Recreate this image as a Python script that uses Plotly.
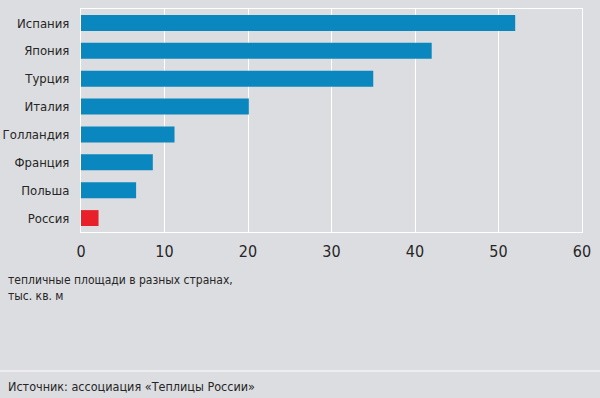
import plotly.graph_objects as go

countries = ["Испания", "Япония", "Турция", "Италия", "Голландия", "Франция", "Польша", "Россия"]
values = [52, 42, 35, 20.1, 11.2, 8.6, 6.6, 2.1]
bar_colors = ["#0a87be"] * 7 + ["#e8202a"]
x_ticks = [0, 10, 20, 30, 40, 50, 60]

BG = "#dcdde0"
FONT = "DejaVu Sans Condensed, sans-serif"
TXT = "#262626"

fig = go.Figure(go.Bar(
    x=values, y=countries, orientation="h",
    marker=dict(color=bar_colors, line=dict(width=0)),
    hoverinfo="skip",
))

W, H = 600, 398
L, R, T, B = 81, 18, 9, 166
pw, ph = W - L - R, H - T - B

def px_x(p):
    return (p - L) / pw

def px_y(p):
    return 1 - (p - T) / ph

fig.update_layout(
    width=W, height=H,
    margin=dict(l=L, r=R, t=T, b=B, pad=0, autoexpand=False),
    paper_bgcolor=BG, plot_bgcolor=BG,
    bargap=0.43,
    showlegend=False,
    font=dict(family=FONT, color=TXT, size=13),
    xaxis=dict(
        range=[0, 60], tickvals=x_ticks, ticktext=[str(v) for v in x_ticks],
        showgrid=True, gridcolor="#ffffff", gridwidth=1,
        showline=True, linecolor="#ffffff", linewidth=1, mirror=True,
        zeroline=False, ticks="", ticklabelstandoff=5, automargin=False,
        tickfont=dict(family=FONT, size=16, color=TXT),
        fixedrange=True,
    ),
    yaxis=dict(
        categoryorder="array", categoryarray=countries[::-1],
        range=[-0.5, len(countries) - 0.5],
        showgrid=False, showline=True, linecolor="#ffffff", linewidth=1, mirror=True,
        zeroline=False, ticks="", ticklabelstandoff=8, automargin=False,
        tickfont=dict(family=FONT, size=13, color=TXT),
        fixedrange=True,
    ),
    annotations=[
        dict(text="тепличные площади в разных странах,<br>тыс. кв. м",
             xref="paper", yref="paper", x=px_x(6), y=px_y(271),
             xanchor="left", yanchor="top", align="left", showarrow=False,
             font=dict(family=FONT, size=12, color=TXT)),
        dict(text="Источник: ассоциация «Теплицы России»",
             xref="paper", yref="paper", x=px_x(6), y=px_y(386),
             xanchor="left", yanchor="middle", align="left", showarrow=False,
             font=dict(family=FONT, size=12.5, color=TXT)),
    ],
    shapes=[
        dict(type="line", xref="paper", yref="paper",
             x0=px_x(0), x1=px_x(600), y0=px_y(371), y1=px_y(371),
             line=dict(color="#eeeef0", width=2)),
    ],
)

fig.write_html(
    "out.html",
    config={"displayModeBar": False},
    post_script="document.body.style.margin='0';document.body.style.overflow='hidden';document.body.style.background='%s';" % BG,
)
